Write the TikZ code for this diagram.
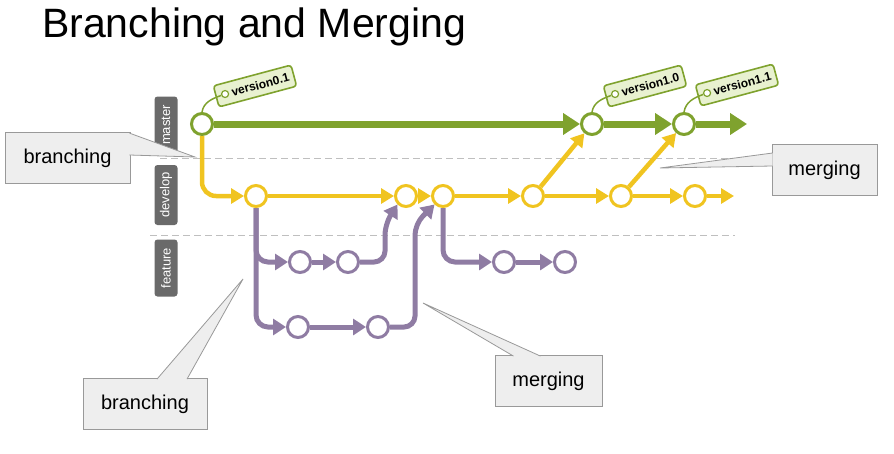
\documentclass[tikz,border=0pt]{standalone}
\usepackage{fontspec}
\setmainfont{Liberation Sans}
\usetikzlibrary{arrows.meta,calc}
\definecolor{mastergreen}{HTML}{7FA22E}
\definecolor{tagfill}{HTML}{E8F1D0}
\definecolor{devyellow}{HTML}{F0C420}
\definecolor{featpurple}{HTML}{8F7CA3}
\definecolor{lanegray}{HTML}{6A6A6A}
\definecolor{boxgray}{HTML}{EEEEEE}
\definecolor{boxline}{HTML}{999999}
\begin{document}
\begin{tikzpicture}[x=1pt,y=-1pt,
  commit/.style={circle,line width=3pt,fill=white,minimum size=21pt,inner sep=0pt},
  mcommit/.style={commit,draw=mastergreen},
  dcommit/.style={commit,draw=devyellow},
  fcommit/.style={commit,draw=featpurple},
  mline/.style={draw=mastergreen,line width=7pt,-{Triangle[length=17pt,width=21pt]}},
  dline/.style={draw=devyellow,line width=4.5pt,-{Triangle[length=13pt,width=15pt]}},
  fline/.style={draw=featpurple,line width=5pt,-{Triangle[length=13pt,width=16pt]}},
  lane/.style={fill=lanegray,text=white,rounded corners=3pt,rotate=90,minimum width=57pt,minimum height=23pt,inner sep=0pt,font=\fontsize{13}{13}\selectfont},
  lanesep/.style={draw=gray!50,line width=1pt,dash pattern=on 7pt off 4pt},
  tag/.style={draw=mastergreen,fill=tagfill,line width=1.6pt,rounded corners=3pt,rotate=15,inner xsep=5pt,inner ysep=6.5pt,font=\bfseries\fontsize{12}{12}\selectfont},
  hole/.style={circle,draw=mastergreen,fill=white,line width=1.2pt,minimum size=7pt,inner sep=0pt},
  tagline/.style={draw=mastergreen,line width=1.5pt},
  callbox/.style={draw=boxline,fill=boxgray,line width=0.8pt,minimum height=51pt,inner sep=0pt,font=\fontsize{20}{20}\selectfont},
  pointer/.style={draw=boxline,fill=boxgray,line width=0.8pt}]
\useasboundingbox (0,0) rectangle (894,453);
\node[anchor=base west,inner sep=0pt,font=\fontsize{41}{41}\selectfont] (title) at (42,37) {Branching and Merging};
\draw[lanesep] (160,158) -- (735,158);
\draw[lanesep] (150,235) -- (735,235);
\node[lane] (master) at (166,125) {master};
\node[lane,minimum width=60pt] (develop) at (166,195) {develop};
\node[lane] (feature) at (166,268) {feature};
\node[mcommit] (m1) at (202,124) {};
\node[mcommit] (m2) at (592,124) {};
\node[mcommit] (m3) at (684,124) {};
\coordinate (mend) at (747,124);
\node[dcommit] (d1) at (256,196) {};
\node[dcommit] (d2) at (406,196) {};
\node[dcommit] (d3) at (443,196) {};
\node[dcommit] (d4) at (533,196) {};
\node[dcommit] (d5) at (621,196) {};
\node[dcommit] (d6) at (695,196) {};
\coordinate (dend) at (734,196);
\node[fcommit] (f1) at (300,262) {};
\node[fcommit] (f2) at (348,262) {};
\node[fcommit] (f3) at (298,327) {};
\node[fcommit] (f4) at (378,327) {};
\node[fcommit] (f5) at (504,262) {};
\node[fcommit] (f6) at (565,262) {};
\draw[mline] (m1) -- (m2);
\draw[mline] (m2) -- (m3);
\draw[mline] (m3) -- (mend);
\draw[dline,rounded corners=14pt] (m1) |- (d1);
\draw[dline] (d1) -- (d2);
\draw[dline] (d2) -- (d3);
\draw[dline] (d3) -- (d4);
\draw[dline] (d4) -- (d5);
\draw[dline] (d5) -- (d6);
\draw[dline] (d6) -- (dend);
\draw[dline] (d4) -- (m2);
\draw[dline] (d5) -- (m3);
\draw[fline,rounded corners=12pt] (d1) |- (f1);
\draw[fline,rounded corners=12pt] (d1) |- (f3);
\draw[fline] (f1) -- (f2);
\draw[fline] (f3) -- (f4);
\draw[fline,rounded corners=11pt] (f2) -| ($(d2)+(-21,28)$) -- (d2.south west);
\draw[fline,rounded corners=11pt] (f4) -| ($(d3)+(-28,28)$) -- (d3.south west);
\draw[fline,rounded corners=12pt] (d3) |- (f5);
\draw[fline] (f5) -- (f6);
\node[tag] (t01) at ($(m1)+(53,-38)$) {\hspace*{11pt}version0.1};
\node[tag] (t10) at ($(m2)+(53,-38)$) {\hspace*{11pt}version1.0};
\node[tag] (t11) at ($(m3)+(53,-39)$) {\hspace*{11pt}version1.1};
\node[hole] (h01) at ($(t01.west)!10pt!(t01.east)$) {};
\node[hole] (h10) at ($(t10.west)!10pt!(t10.east)$) {};
\node[hole] (h11) at ($(t11.west)!10pt!(t11.east)$) {};
\draw[tagline] (m1.north) to[out=80,in=200] (h01);
\draw[tagline] (m2.north) to[out=80,in=200] (h10);
\draw[tagline] (m3.north) to[out=80,in=200] (h11);
\node[callbox,minimum width=125pt] (b1) at (67.5,158) {branching};
\node[callbox,minimum width=124pt] (b2) at (145,404) {branching};
\node[callbox,minimum width=107pt] (b3) at (548.5,381) {merging};
\node[callbox,minimum width=105pt] (b4) at (824.5,170) {merging};
\coordinate (p1) at (195,157);
\coordinate (p2) at (243,279);
\coordinate (p3) at (423,303);
\coordinate (p4) at (660,168);
\filldraw[pointer] ($(b1.north east)+(-1,1)$) -- (p1) -- ($(b1.east)+(-1,-3)$);
\filldraw[pointer] ($(b2.north)+(12,1)$) -- (p2) -- ($(b2.north)+(42,1)$);
\filldraw[pointer] ($(b3.north)+(-35,1)$) -- (p3) -- ($(b3.north)+(-8,1)$);
\filldraw[pointer] ($(b4.west)+(1,-17)$) -- (p4) -- ($(b4.west)+(1,-4)$);
\end{tikzpicture}
\end{document}
